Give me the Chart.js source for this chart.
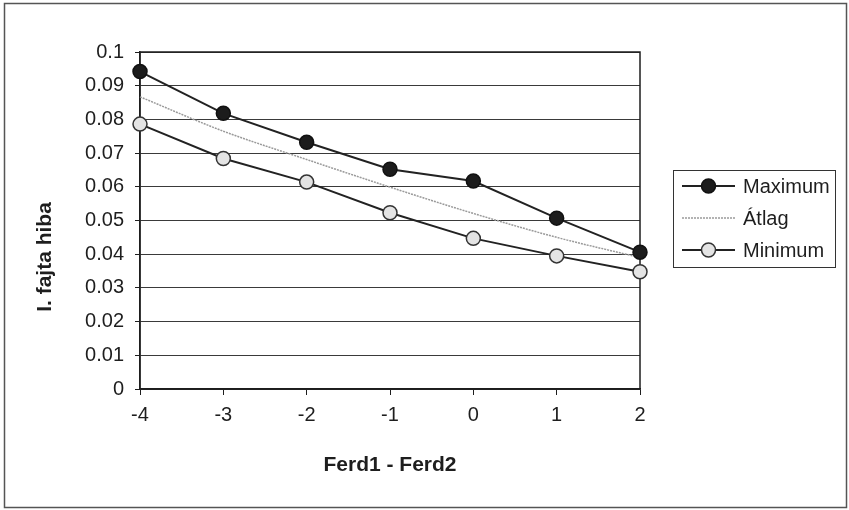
<!DOCTYPE html>
<html>
<head>
<meta charset="utf-8">
<script src="https://cdn.jsdelivr.net/npm/chart.js@4/dist/chart.umd.min.js"></script>
<style>
  html, body { margin: 0; padding: 0; background: #fff; }
</style>
</head>
<body>
<canvas id="myChart" width="849" height="510"></canvas>
<script>
// Ferd1 - Ferd2 differences and the type I error rates
const ferd = [-4, -3, -2, -1, 0, 1, 2];
const maximum = [0.0942, 0.0818, 0.0732, 0.0652, 0.0617, 0.0507, 0.0406];
const atlag = [0.0867, 0.0765, 0.0681, 0.0599, 0.0521, 0.0450, 0.0390];
const minimum = [0.0786, 0.0684, 0.0614, 0.0523, 0.0447, 0.0395, 0.0348];
const yTicks = [0, 0.01, 0.02, 0.03, 0.04, 0.05, 0.06, 0.07, 0.08, 0.09, 0.1];
const seriesNames = ['Maximum', 'Átlag', 'Minimum'];

const FONT = "'Liberation Sans', Arial, sans-serif";
const INK = '#1e1e1e';

const pts = vals => ferd.map((x, i) => ({ x: x, y: vals[i] }));

// white page with the thin outer frame, plot box border
const frame = {
  id: 'frame',
  beforeDraw(chart) {
    const c = chart.ctx;
    c.save();
    c.fillStyle = '#fff';
    c.fillRect(0, 0, chart.width, chart.height);
    c.strokeStyle = '#555';
    c.lineWidth = 1.5;
    c.strokeRect(4.5, 3.5, 842, 504);
    c.restore();
  },
  beforeDatasetsDraw(chart) {
    const a = chart.chartArea, c = chart.ctx;
    c.save();
    c.strokeStyle = INK;
    c.lineWidth = 1.5;
    c.strokeRect(a.left, a.top, a.right - a.left, a.bottom - a.top);
    c.restore();
  }
};

// axis titles
const titles = {
  id: 'titles',
  afterDraw(chart) {
    const c = chart.ctx, a = chart.chartArea;
    c.save();
    c.fillStyle = INK;
    c.font = 'bold 21px ' + FONT;
    c.textAlign = 'center';
    c.textBaseline = 'middle';
    c.fillText('Ferd1 - Ferd2', (a.left + a.right) / 2, 465);
    c.translate(45, 257);
    c.rotate(-Math.PI / 2);
    c.fillText('I. fajta hiba', 0, 0);
    c.restore();
  }
};

// boxed legend on the right
const legendBox = {
  id: 'legendBox',
  afterDraw(chart) {
    const c = chart.ctx;
    c.save();
    c.strokeStyle = '#333';
    c.lineWidth = 1;
    c.strokeRect(673.5, 170.5, 162, 97);
    const rows = [186, 218, 250];
    chart.data.datasets.forEach((ds, i) => {
      const y = rows[i];
      c.strokeStyle = ds.borderColor;
      c.lineWidth = ds.borderWidth;
      c.setLineDash(ds.borderDash || []);
      c.beginPath();
      c.moveTo(682, y);
      c.lineTo(735, y);
      c.stroke();
      c.setLineDash([]);
      if (ds.pointRadius > 0) {
        c.beginPath();
        c.arc(708.5, y, ds.pointRadius, 0, Math.PI * 2);
        c.fillStyle = ds.pointBackgroundColor;
        c.fill();
        c.strokeStyle = ds.pointBorderColor;
        c.lineWidth = ds.pointBorderWidth;
        c.stroke();
      }
      c.fillStyle = INK;
      c.font = '20px ' + FONT;
      c.textAlign = 'left';
      c.textBaseline = 'middle';
      c.fillText(ds.label, 743, y + 1);
    });
    c.restore();
  }
};

const ctx = document.getElementById('myChart');

new Chart(ctx, {
  type: 'line',
  data: {
    datasets: [{
      label: seriesNames[0],
      data: pts(maximum),
      borderColor: '#222',
      borderWidth: 2,
      pointRadius: 7,
      pointBackgroundColor: '#1c1c1c',
      pointBorderColor: '#111',
      pointBorderWidth: 1.5,
      tension: 0
    }, {
      label: seriesNames[1],
      data: pts(atlag),
      borderColor: '#9a9a9a',
      borderWidth: 1.5,
      borderDash: [2, 1],
      pointRadius: 0,
      cubicInterpolationMode: 'monotone'
    }, {
      label: seriesNames[2],
      data: pts(minimum),
      borderColor: '#222',
      borderWidth: 2,
      pointRadius: 7,
      pointBackgroundColor: '#e4e4e4',
      pointBorderColor: '#333',
      pointBorderWidth: 1.5,
      tension: 0
    }]
  },
  options: {
    responsive: false,
    animation: false,
    clip: false,
    layout: { padding: { top: 52, right: 209, left: 0, bottom: 0 } },
    plugins: {
      legend: { display: false },
      tooltip: { enabled: false }
    },
    scales: {
      x: {
        type: 'linear',
        min: ferd[0],
        max: ferd[ferd.length - 1],
        afterFit: s => { s.height = 121; },
        afterBuildTicks: s => { s.ticks = ferd.map(v => ({ value: v })); },
        grid: { drawOnChartArea: false, drawTicks: true, tickLength: 6, tickColor: INK },
        border: { color: INK, width: 1.5 },
        ticks: { color: INK, font: { family: FONT, size: 20 }, padding: 8, maxRotation: 0 }
      },
      y: {
        min: 0,
        max: 0.1,
        afterFit: s => { s.width = 140; },
        afterBuildTicks: s => { s.ticks = yTicks.map(v => ({ value: v })); },
        grid: { color: '#3a3a3a', lineWidth: 1, drawTicks: true, tickLength: 5, tickColor: INK },
        border: { color: INK, width: 1.5 },
        ticks: {
          color: INK,
          font: { family: FONT, size: 20 },
          padding: 11,
          callback: v => String(Number(v.toFixed(2)))
        }
      }
    }
  },
  plugins: [frame, titles, legendBox]
});
</script>
</body>
</html>
